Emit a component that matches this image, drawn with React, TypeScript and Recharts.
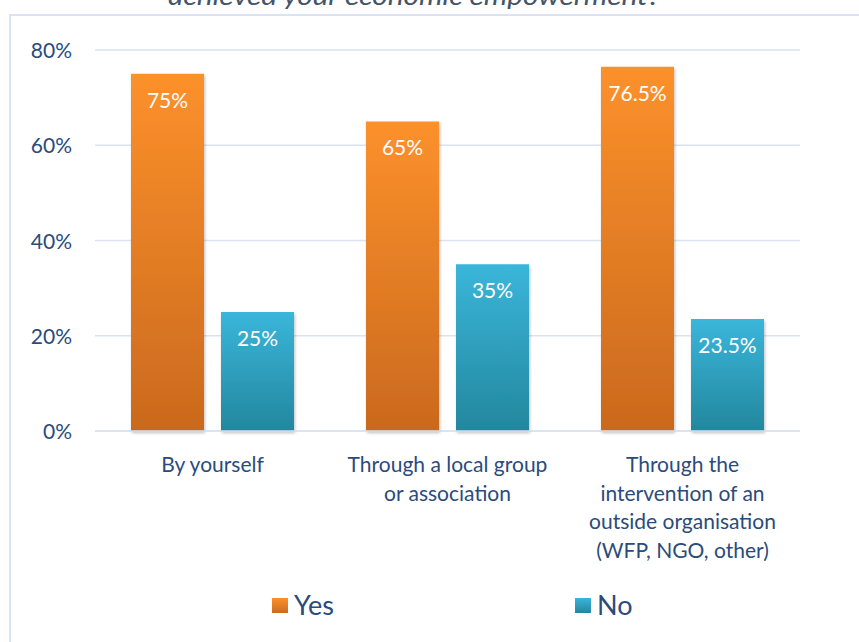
import { Bar, BarChart, CartesianGrid, LabelList, XAxis, YAxis } from 'recharts'

const categories = [
  'By yourself',
  'Through a local group\nor association',
  'Through the\nintervention of an\noutside organisation\n(WFP, NGO, other)',
]
const yesValues = [75, 65, 76.5]
const noValues = [25, 35, 23.5]
const yTicks = [0, 20, 40, 60, 80]
const seriesNames = ['Yes', 'No']

const TEXT = '#2A4B7C'
const GRID = '#D9E3F1'
const FONT = 'Lato, "Open Sans", sans-serif'

const data = categories.map((name, i) => ({ name, yes: yesValues[i], no: noValues[i] }))

const fmt = (v: number) => `${v}%`

const YTick = ({ y, payload }: any) => (
  <text x={72} y={y + 8} textAnchor="end" fill={TEXT} fontSize={21} fontFamily={FONT}>
    {fmt(payload.value)}
  </text>
)

const XTick = ({ x, y, payload }: any) => {
  const lines = String(payload.value).split('\n')
  return (
    <text x={x} y={y} textAnchor="middle" fill={TEXT} fontSize={21} fontFamily={FONT}>
      {lines.map((l, i) => (
        <tspan key={i} x={x} y={y + 33 + i * 28.7}>{l}</tspan>
      ))}
    </text>
  )
}

const BarLabel = ({ x, y, width, value }: any) => (
  <text x={x + width / 2} y={y + 34} textAnchor="middle" fill="#fff" fontSize={21} fontFamily={FONT}>
    {fmt(value)}
  </text>
)

const LegendBox = () => {
  const xs = [272, 575]
  const grads = ['linear-gradient(#FB902B, #CC6A1E)', 'linear-gradient(#39B5D9, #24879F)']
  return (
    <div style={{ position: 'absolute', left: 0, top: 588, width: 859, height: 34 }}>
      {seriesNames.map((label, i) => (
        <div key={label} style={{ position: 'absolute', left: xs[i], top: 0, display: 'flex', alignItems: 'center', height: 34 }}>
          <div style={{ width: 16, height: 15, marginRight: 6, background: grads[i] }} />
          <span style={{ fontFamily: FONT, fontSize: 27, color: TEXT, lineHeight: '34px' }}>{label}</span>
        </div>
      ))}
    </div>
  )
}

export default function App() {
  return (
    <div style={{ position: 'fixed', left: 0, top: 0, width: 859, height: 642, background: '#fff', overflow: 'hidden' }}>
      <div style={{ position: 'absolute', left: 9, top: 14, width: 1000, height: 800, border: `2px solid ${GRID}` }} />
      <svg width={859} height={20} style={{ position: 'absolute', left: 0, top: 0 }}>
        <text x={168} y={5} textLength={492} lengthAdjust="spacingAndGlyphs" fill="#44546A" fontSize={26} fontStyle="italic" fontFamily={FONT}>
          achieved your economic empowerment?
        </text>
      </svg>
      <div style={{ position: 'absolute', left: 0, top: 0 }}>
        <BarChart width={859} height={642} data={data} margin={{ top: 50, right: 59, bottom: 0, left: 0 }} barSize={73} barGap={17}>
          <defs>
            <linearGradient id="gYes" x1="0" y1="0" x2="0" y2="1">
              <stop offset="0%" stopColor="#FC912B" />
              <stop offset="100%" stopColor="#CA691E" />
            </linearGradient>
            <linearGradient id="gNo" x1="0" y1="0" x2="0" y2="1">
              <stop offset="0%" stopColor="#3AB6DA" />
              <stop offset="100%" stopColor="#23879E" />
            </linearGradient>
            <filter id="shadow" x="-10%" y="-5%" width="130%" height="115%">
              <feDropShadow dx="1" dy="2" stdDeviation="1.5" floodColor="#000" floodOpacity="0.25" />
            </filter>
          </defs>
          <CartesianGrid vertical={false} stroke={GRID} strokeWidth={1.5} />
          <XAxis dataKey="name" interval={0} axisLine={{ stroke: GRID, strokeWidth: 1.5 }} tickLine={false} tick={<XTick />} height={211} />
          <YAxis domain={[0, 80]} ticks={yTicks} width={95} axisLine={false} tickLine={false} tick={<YTick />} />
          <Bar dataKey="yes" name={seriesNames[0]} fill="url(#gYes)" filter="url(#shadow)" isAnimationActive={false}>
            <LabelList dataKey="yes" content={<BarLabel />} />
          </Bar>
          <Bar dataKey="no" name={seriesNames[1]} fill="url(#gNo)" filter="url(#shadow)" isAnimationActive={false}>
            <LabelList dataKey="no" content={<BarLabel />} />
          </Bar>
        </BarChart>
      </div>
      <LegendBox />
    </div>
  )
}
